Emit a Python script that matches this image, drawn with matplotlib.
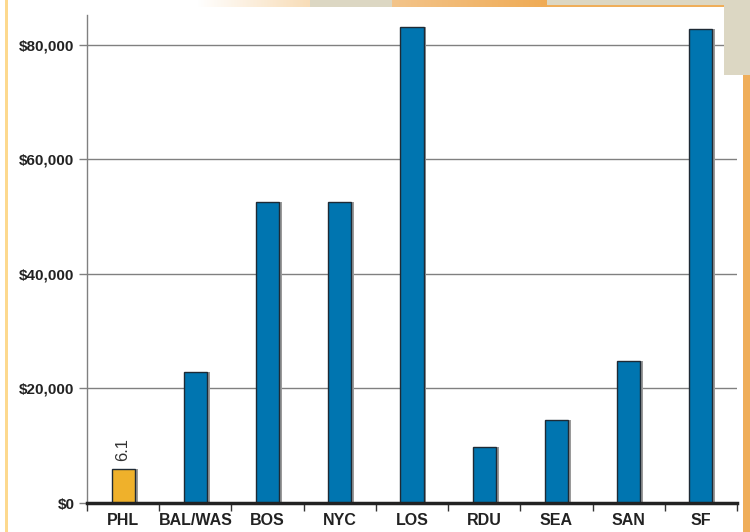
import matplotlib.pyplot as plt
import numpy as np
from matplotlib.patches import Rectangle
from matplotlib.colors import LinearSegmentedColormap

# data
cities = ['PHL', 'BAL/WAS', 'BOS', 'NYC', 'LOS', 'RDU', 'SEA', 'SAN', 'SF']
values = [5900, 22900, 52600, 52500, 83100, 9800, 14500, 24800, 82800]
bar_colors = ['#EFB12B'] + ['#0075B0'] * 8
value_label = '6.1'
yticks = [0, 20000, 40000, 60000, 80000]
ytick_labels = ['$0', '$20,000', '$40,000', '$60,000', '$80,000']

plt.rcParams['font.family'] = ['Liberation Sans', 'DejaVu Sans']

fig = plt.figure(figsize=(7.5, 5.32), dpi=100)
W, H = 750, 532


def px_rect(x0, y0, x1, y1, color, z=0):
    # rectangle in pixel coords (top-left origin)
    fig.patches.append(Rectangle((x0 / W, 1 - y1 / H), (x1 - x0) / W, (y1 - y0) / H,
                                 transform=fig.transFigure, color=color, zorder=z, lw=0))


# page decoration around the white panel
px_rect(5, 0, 8, 532, '#FDD98E')
px_rect(724, 0, 750, 75, '#DCD7C3')
px_rect(743, 75, 750, 532, '#EFAE5A')
px_rect(547, 0, 724, 5, '#DCD7C3')
px_rect(547, 5, 724, 7, '#EFAE5A')
px_rect(310, 0, 392, 7, '#DCD7C3')
grad = fig.add_axes([197 / W, 1 - 7 / H, (310 - 197) / W, 7 / H])
grad.imshow(np.linspace(0, 1, 100)[None, :], aspect='auto',
            cmap=LinearSegmentedColormap.from_list('a', ['#FFFFFF', '#F8DDB8']))
grad.axis('off')
grad2 = fig.add_axes([392 / W, 1 - 7 / H, (547 - 392) / W, 7 / H])
grad2.imshow(np.linspace(0, 1, 100)[None, :], aspect='auto',
             cmap=LinearSegmentedColormap.from_list('b', ['#F3C48A', '#EFAB55']))
grad2.axis('off')

ax = fig.add_axes([87 / W, 1 - 503 / H, (737 - 87) / W, (503 - 15) / H])
ax.set_facecolor('none')

x = np.arange(len(cities))
ax.bar(x + 0.04, values, width=0.32, color='#9A9A9A', zorder=2)
bars = ax.bar(x, values, width=0.32, color=bar_colors, edgecolor='#1E2A35', linewidth=1, zorder=3)

ax.text(x[0], values[0] + 1500, value_label, rotation=90, ha='center', va='bottom',
        fontsize=12, color='#333333')

ax.set_xlim(-0.5, len(cities) - 0.5)
ax.set_ylim(0, 85240)
ax.set_yticks(yticks)
ax.set_yticklabels(ytick_labels, fontsize=11, fontweight='bold', color='#222222')
ax.yaxis.grid(True, color='#808080', linewidth=1, zorder=1)
ax.set_axisbelow(True)

ax.set_xticks(np.arange(len(cities) + 1) - 0.5)
ax.set_xticklabels([])
ax.set_xticks(x, minor=True)
ax.set_xticklabels(cities, minor=True, fontsize=11.5, fontweight='bold', color='#222222')
ax.tick_params(axis='x', which='major', length=6, width=1, color='#333333', direction='out')
ax.tick_params(axis='x', which='minor', length=0, pad=7)
ax.tick_params(axis='y', length=6, width=1, color='#808080', pad=3)

for s in ['top', 'right']:
    ax.spines[s].set_visible(False)
ax.spines['left'].set_color('#808080')
ax.spines['left'].set_linewidth(1)
ax.spines['bottom'].set_color('#222222')
ax.spines['bottom'].set_linewidth(2.5)
ax.spines['bottom'].set_zorder(4)

fig.savefig('out.png', dpi=100)
